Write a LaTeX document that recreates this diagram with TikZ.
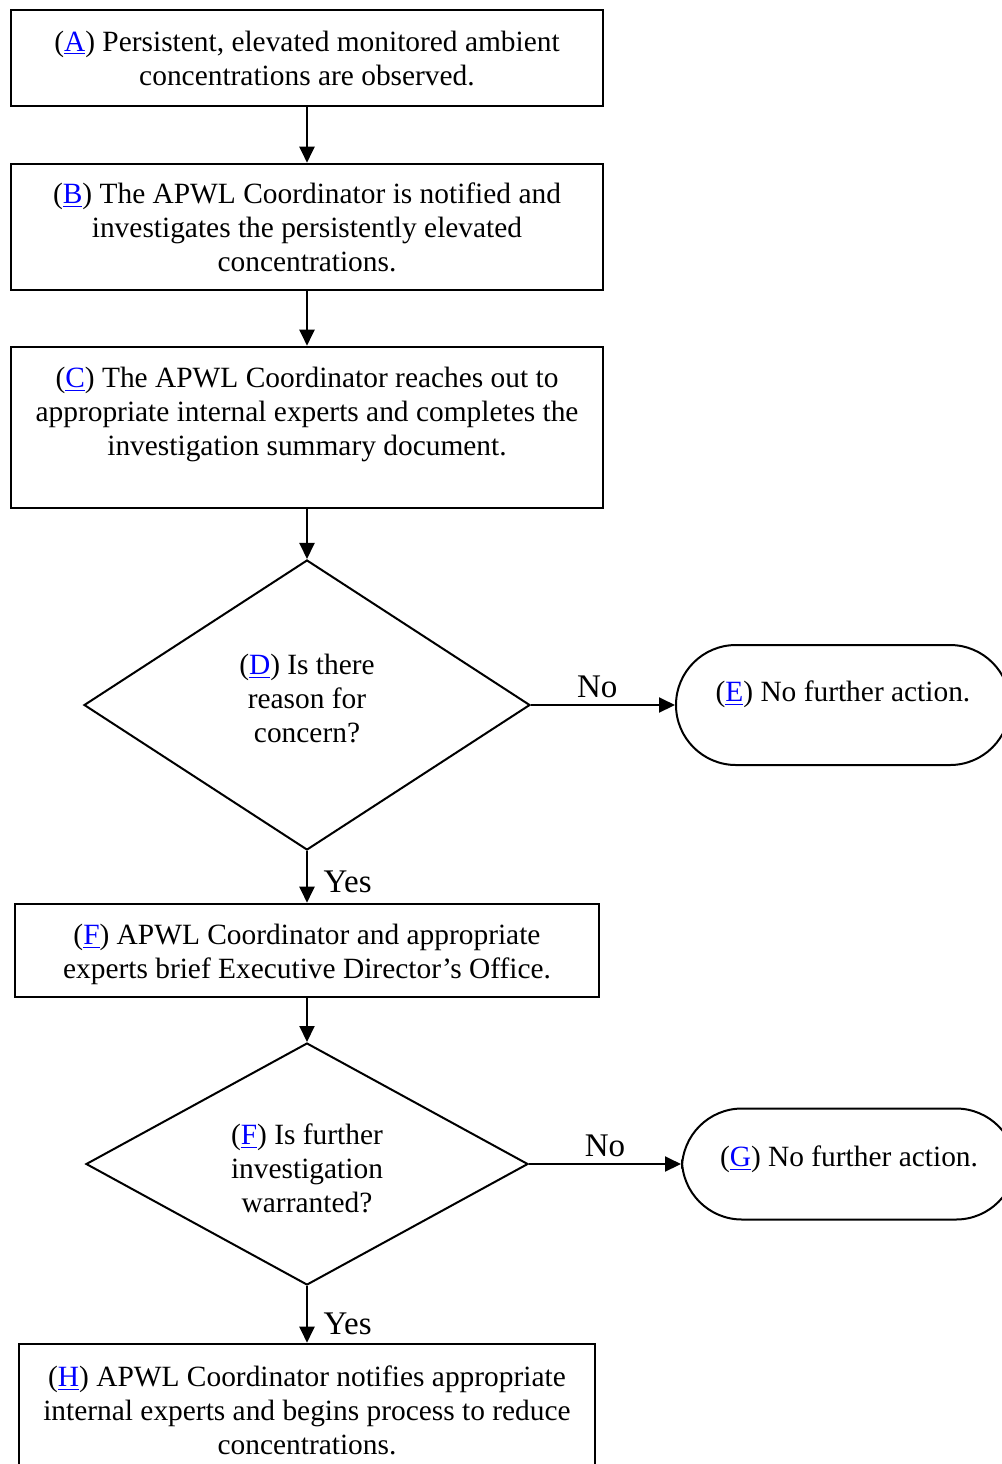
\documentclass[tikz,border=0pt]{standalone}
\usepackage{fontspec}
\setmainfont{Liberation Serif}
\usetikzlibrary{shapes.geometric,arrows.meta}
\definecolor{linkblue}{RGB}{0,0,255}
\newcommand{\steplbl}[1]{(\textcolor{linkblue}{\underline{#1}})}

\begin{document}
\begin{tikzpicture}[x=0.5pt,y=-0.5pt,font=\fontsize{14.7}{17}\selectfont,
	box/.style={draw,line width=1.3pt,align=center,inner sep=0pt},
	decision/.style={draw,diamond,line width=1pt,align=center,inner sep=0pt,aspect=1.5},
	endbox/.style={draw,line width=1pt,rounded corners=30pt,inner sep=0pt,minimum width=167pt},
	arr/.style={line width=1pt,-{Triangle[length=8pt,width=7.5pt]}},
	answer/.style={font=\fontsize{16.5}{19}\selectfont}]
\clip (0,0) rectangle (1002,1464);

\node[box,minimum width=296pt,minimum height=48pt] (A) at (307,58)
	{\steplbl{A} Persistent, elevated monitored ambient\\concentrations are observed.};
\node[box,minimum width=296pt,minimum height=63pt] (B) at (307,227)
	{\steplbl{B} The APWL Coordinator is notified and\\investigates the persistently elevated\\concentrations.};
\node[box,minimum width=296pt,minimum height=80.5pt,text depth=16pt] (C) at (307,427.5)
	{\steplbl{C} The APWL Coordinator reaches out to\\appropriate internal experts and completes the\\investigation summary document.};
\node[decision,minimum width=223pt,minimum height=145pt,text depth=7pt] (D) at (307,705)
	{\steplbl{D} Is there\\reason for\\concern?};
\node[endbox,minimum height=60pt,text depth=14pt] (E) at (843,705)
	{\steplbl{E} No further action.};
\node[box,minimum width=292pt,minimum height=46.5pt] (F) at (307,950.5)
	{\rule{0pt}{14pt}\steplbl{F} APWL Coordinator and appropriate\\experts brief Executive Director's Office.};
\node[decision,minimum width=221pt,minimum height=121pt] (F2) at (307,1164)
	{\rule{0pt}{15pt}\steplbl{F} Is further\\investigation\\warranted?};
\node[endbox,minimum height=55.5pt,text depth=8pt] (G) at (849,1164)
	{\steplbl{G} No further action.};
\node[box,minimum width=288pt,minimum height=66pt] (H) at (307,1410)
	{\steplbl{H} APWL Coordinator notifies appropriate\\internal experts and begins process to reduce\\concentrations.};

\draw[arr] (A) -- (B);
\draw[arr] (B) -- (C);
\draw[arr] (C) -- (D);
\draw[arr] (D.east) -- node[answer,above=0pt,pos=0.46] {No} (E.west);
\draw[arr] (D) -- node[answer,right=4.5pt,pos=0.6] {Yes} (F);
\draw[arr] (F) -- (F2);
\draw[arr] (F2.east) -- node[answer,above=0pt] {No} (G.west);
\draw[arr] (F2) -- node[answer,right=4.5pt,pos=0.67] {Yes} (H);
\end{tikzpicture}
\end{document}
